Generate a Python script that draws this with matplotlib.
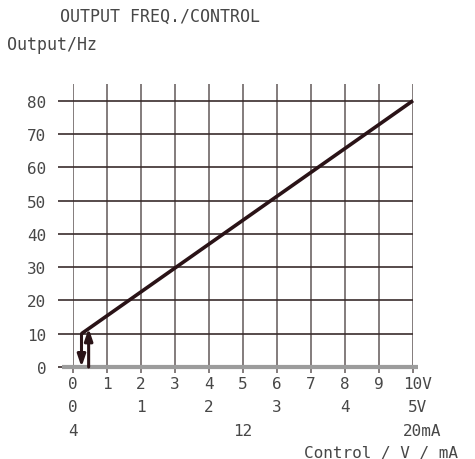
import matplotlib
matplotlib.use("Agg")
import matplotlib.pyplot as plt

# ---- data ----
title = "OUTPUT FREQ./CONTROL"
y_label = "Output/Hz"
x_label = "Control / V / mA"
y_ticks = [0, 10, 20, 30, 40, 50, 60, 70, 80]
row1_pos = [0, 1, 2, 3, 4, 5, 6, 7, 8, 9, 10]
row1_lab = ["0", "1", "2", "3", "4", "5", "6", "7", "8", "9", "10V"]
row2_pos = [0, 2, 4, 6, 8, 10]
row2_lab = ["0", "1", "2", "3", "4", "5V"]
row3_pos = [0, 5, 10]
row3_lab = ["4", "12", "20mA"]
curve_x = [0.25, 10.0]
curve_y = [10.0, 80.0]
down_arrow = (0.25, 10.0, 0.0)   # x, from y, to y
up_arrow = (0.46, 0.0, 11.6)

W, H = 475, 460
fig = plt.figure(figsize=(W / 100, H / 100), dpi=100)
ax = fig.add_axes([73 / W, (H - 368) / H, 340 / W, (368 - 85) / H])
ax.set_xlim(0, 10)
ax.set_ylim(0, 85)
for s in ax.spines.values():
    s.set_visible(False)

font = dict(family="DejaVu Sans Mono", color="#474747")
grid_v = "#6e6666"
grid_h = "#3a2c2c"
line_c = "#2a1317"

# vertical grid lines
ax.vlines(row1_pos, 0, 85, color=grid_v, lw=1.2, zorder=1)
# horizontal grid lines
ax.hlines(y_ticks[1:], 0, 10, color=grid_h, lw=1.2, zorder=1)
# bottom gray baseline
ax.plot([-0.32, 10.15], [0, 0], color="#9c9c9c", lw=3, clip_on=False, zorder=2, solid_capstyle="butt")

ax.set_yticks(y_ticks)
ax.set_yticklabels([str(v) for v in y_ticks], fontsize=11.5, **font)
ax.tick_params(axis="y", length=11, width=1.2, color=grid_h, pad=8, direction="out")
ax.set_xticks(row1_pos)
ax.set_xticklabels([])
ax.tick_params(axis="x", length=4, width=1.2, color=grid_v, direction="out")

# curve
ax.plot(curve_x, curve_y, color=line_c, lw=2.6, solid_capstyle="butt", zorder=4, clip_on=False)

# arrows
astyle = "-|>,head_length=0.5,head_width=0.17"
ax.annotate("", xy=(down_arrow[0], down_arrow[2]), xytext=(down_arrow[0], down_arrow[1]),
            arrowprops=dict(arrowstyle=astyle, color=line_c, lw=2.2, mutation_scale=14,
                            shrinkA=0, shrinkB=0), annotation_clip=False, zorder=5)
ax.annotate("", xy=(up_arrow[0], up_arrow[2]), xytext=(up_arrow[0], up_arrow[1]),
            arrowprops=dict(arrowstyle=astyle, color=line_c, lw=2.2, mutation_scale=14,
                            shrinkA=0, shrinkB=0), annotation_clip=False, zorder=5)


def row(positions, labels, ydata):
    for p, lab in zip(positions, labels):
        num = "".join(ch for ch in lab if ch.isdigit())
        if num == lab:
            ax.text(p, ydata, lab, ha="center", va="center", fontsize=11.5, clip_on=False, **font)
        else:
            # center numeric part on tick, append unit
            off = len(num) * 0.146
            ax.text(p - off, ydata, lab, ha="left", va="center", fontsize=11.5, clip_on=False, **font)


row(row1_pos, row1_lab, -5.1)
row(row2_pos, row2_lab, -12.0)
row(row3_pos, row3_lab, -19.2)

ax.text(11.32, -25.6, x_label, ha="right", va="center", fontsize=11.5, clip_on=False, **font)

fig.text(60 / W, 1 - 17 / H, title, ha="left", va="center", fontsize=12, **font)
fig.text(7 / W, 1 - 45 / H, y_label, ha="left", va="center", fontsize=12, **font)

fig.savefig("out.png", dpi=100)
